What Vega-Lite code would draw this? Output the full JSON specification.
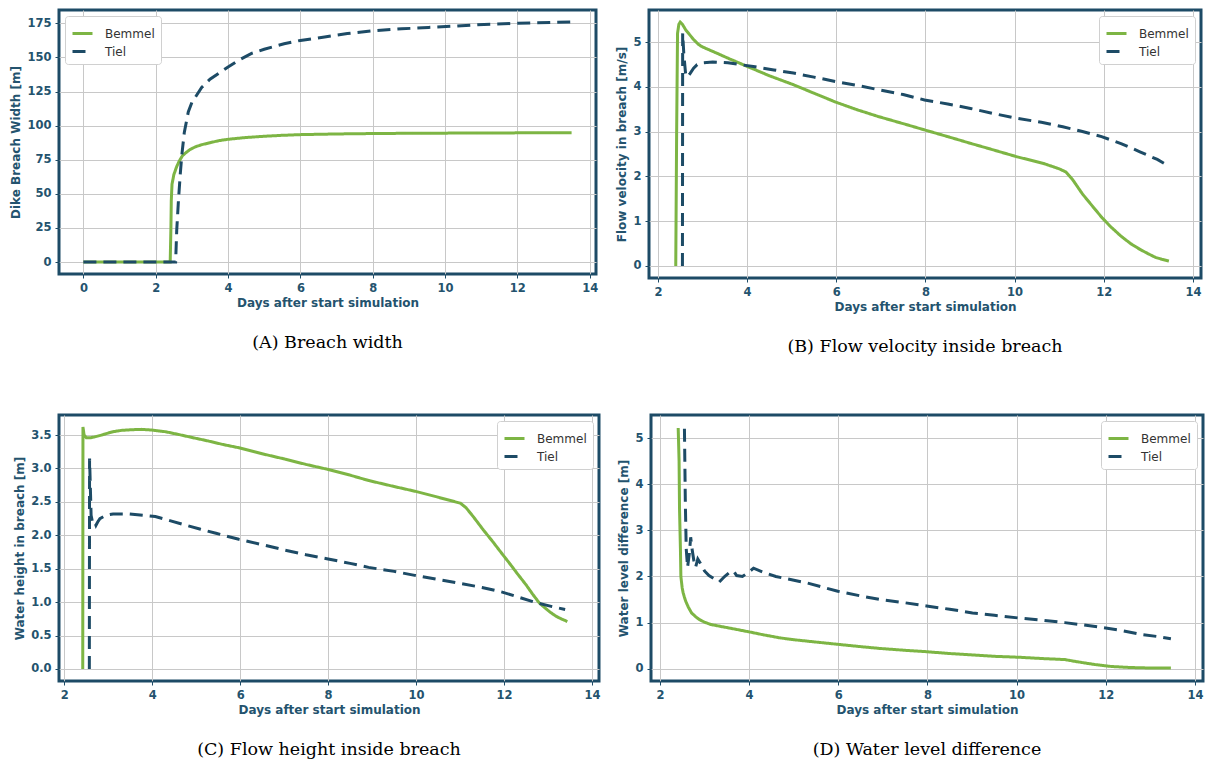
{
  "$schema": "https://vega.github.io/schema/vega-lite/v6.json",
  "background": "white",
  "padding": {"left": 8, "top": 8, "right": 5, "bottom": 5},
  "spacing": 56,
  "resolve": {"scale": {"color": "independent", "strokeDash": "independent"}, "legend": {"color": "independent", "strokeDash": "independent"}},
  "config": {
    "font": "DejaVu Sans",
    "view": {"stroke": "#1d4b66", "strokeWidth": 3},
    "axis": {"domain": false, "gridColor": "#c8c8c8", "gridWidth": 1, "tickColor": "#1d4b66", "tickSize": 4, "labelColor": "#24536e", "labelFont": "DejaVu Sans", "labelFontWeight": "bold", "labelFontSize": 11.5, "titleColor": "#24536e", "titleFont": "DejaVu Sans", "titleFontWeight": "bold", "titleFontSize": 12, "labelPadding": 4, "titlePadding": 4},
    "legend": {"strokeColor": "#d0d0d0", "fillColor": "white", "padding": 6, "cornerRadius": 3, "labelFont": "DejaVu Sans", "labelFontSize": 12, "labelColor": "#333333", "symbolType": "stroke", "symbolStrokeWidth": 3, "symbolSize": 400, "rowPadding": 0, "offset": 6, "labelOffset": 11},
    "title": {"font": "DejaVu Serif", "fontSize": 17.5, "fontWeight": "normal", "color": "black", "orient": "bottom", "offset": 25, "anchor": "middle"},
    "line": {"strokeWidth": 3}
  },
  "datasets": {
    "a": [
      {"series": "Bemmel", "day": 0, "value": 0}, {"series": "Bemmel", "day": 1, "value": 0}, {"series": "Bemmel", "day": 2, "value": 0}, {"series": "Bemmel", "day": 2.4, "value": 0},
      {"series": "Bemmel", "day": 2.42, "value": 25}, {"series": "Bemmel", "day": 2.43, "value": 45}, {"series": "Bemmel", "day": 2.45, "value": 57}, {"series": "Bemmel", "day": 2.5, "value": 64},
      {"series": "Bemmel", "day": 2.58, "value": 70}, {"series": "Bemmel", "day": 2.65, "value": 74}, {"series": "Bemmel", "day": 2.74, "value": 78}, {"series": "Bemmel", "day": 2.85, "value": 80.5},
      {"series": "Bemmel", "day": 2.95, "value": 82.5}, {"series": "Bemmel", "day": 3.1, "value": 84.5}, {"series": "Bemmel", "day": 3.27, "value": 86}, {"series": "Bemmel", "day": 3.5, "value": 87.5},
      {"series": "Bemmel", "day": 3.75, "value": 89}, {"series": "Bemmel", "day": 4.0, "value": 90}, {"series": "Bemmel", "day": 4.5, "value": 91.3}, {"series": "Bemmel", "day": 5.0, "value": 92.2},
      {"series": "Bemmel", "day": 5.5, "value": 92.9}, {"series": "Bemmel", "day": 6.0, "value": 93.4}, {"series": "Bemmel", "day": 7.0, "value": 93.9}, {"series": "Bemmel", "day": 8.0, "value": 94.2},
      {"series": "Bemmel", "day": 9.0, "value": 94.4}, {"series": "Bemmel", "day": 10.0, "value": 94.5}, {"series": "Bemmel", "day": 11.0, "value": 94.6}, {"series": "Bemmel", "day": 12.0, "value": 94.7}, {"series": "Bemmel", "day": 13.5, "value": 94.8},
      {"series": "Tiel", "day": 0, "value": 0}, {"series": "Tiel", "day": 1, "value": 0}, {"series": "Tiel", "day": 2, "value": 0}, {"series": "Tiel", "day": 2.55, "value": 0},
      {"series": "Tiel", "day": 2.58, "value": 23}, {"series": "Tiel", "day": 2.63, "value": 46}, {"series": "Tiel", "day": 2.68, "value": 65}, {"series": "Tiel", "day": 2.72, "value": 78},
      {"series": "Tiel", "day": 2.79, "value": 95}, {"series": "Tiel", "day": 2.9, "value": 110}, {"series": "Tiel", "day": 3.0, "value": 117}, {"series": "Tiel", "day": 3.27, "value": 128},
      {"series": "Tiel", "day": 3.5, "value": 134}, {"series": "Tiel", "day": 4.0, "value": 143}, {"series": "Tiel", "day": 4.3, "value": 148}, {"series": "Tiel", "day": 4.65, "value": 153},
      {"series": "Tiel", "day": 5.0, "value": 156}, {"series": "Tiel", "day": 5.55, "value": 160}, {"series": "Tiel", "day": 6.0, "value": 162.5}, {"series": "Tiel", "day": 6.67, "value": 165},
      {"series": "Tiel", "day": 7.3, "value": 167.5}, {"series": "Tiel", "day": 8.0, "value": 169.5}, {"series": "Tiel", "day": 8.8, "value": 171}, {"series": "Tiel", "day": 9.54, "value": 172},
      {"series": "Tiel", "day": 10.3, "value": 173}, {"series": "Tiel", "day": 10.9, "value": 174}, {"series": "Tiel", "day": 12.0, "value": 175}, {"series": "Tiel", "day": 13.5, "value": 176}
    ],
    "b": [
      {"series": "Bemmel", "day": 2.4, "value": 0}, {"series": "Bemmel", "day": 2.42, "value": 3.0}, {"series": "Bemmel", "day": 2.44, "value": 5.2}, {"series": "Bemmel", "day": 2.47, "value": 5.4},
      {"series": "Bemmel", "day": 2.5, "value": 5.45}, {"series": "Bemmel", "day": 2.55, "value": 5.4}, {"series": "Bemmel", "day": 2.62, "value": 5.28}, {"series": "Bemmel", "day": 2.71, "value": 5.17},
      {"series": "Bemmel", "day": 2.8, "value": 5.06}, {"series": "Bemmel", "day": 2.9, "value": 4.96}, {"series": "Bemmel", "day": 2.97, "value": 4.91}, {"series": "Bemmel", "day": 3.1, "value": 4.85},
      {"series": "Bemmel", "day": 3.31, "value": 4.76}, {"series": "Bemmel", "day": 3.6, "value": 4.63}, {"series": "Bemmel", "day": 4.0, "value": 4.46}, {"series": "Bemmel", "day": 4.5, "value": 4.25},
      {"series": "Bemmel", "day": 5.04, "value": 4.05}, {"series": "Bemmel", "day": 5.5, "value": 3.86}, {"series": "Bemmel", "day": 5.99, "value": 3.66}, {"series": "Bemmel", "day": 6.5, "value": 3.48},
      {"series": "Bemmel", "day": 6.94, "value": 3.34}, {"series": "Bemmel", "day": 7.5, "value": 3.18}, {"series": "Bemmel", "day": 7.98, "value": 3.04}, {"series": "Bemmel", "day": 8.5, "value": 2.89},
      {"series": "Bemmel", "day": 9.01, "value": 2.74}, {"series": "Bemmel", "day": 9.5, "value": 2.6}, {"series": "Bemmel", "day": 10.05, "value": 2.44}, {"series": "Bemmel", "day": 10.65, "value": 2.29},
      {"series": "Bemmel", "day": 11.0, "value": 2.17}, {"series": "Bemmel", "day": 11.15, "value": 2.1}, {"series": "Bemmel", "day": 11.3, "value": 1.93}, {"series": "Bemmel", "day": 11.52, "value": 1.61},
      {"series": "Bemmel", "day": 11.75, "value": 1.33}, {"series": "Bemmel", "day": 11.95, "value": 1.09}, {"series": "Bemmel", "day": 12.15, "value": 0.88}, {"series": "Bemmel", "day": 12.38, "value": 0.67},
      {"series": "Bemmel", "day": 12.6, "value": 0.5}, {"series": "Bemmel", "day": 12.81, "value": 0.37}, {"series": "Bemmel", "day": 13.0, "value": 0.27}, {"series": "Bemmel", "day": 13.16, "value": 0.19},
      {"series": "Bemmel", "day": 13.3, "value": 0.15}, {"series": "Bemmel", "day": 13.46, "value": 0.11},
      {"series": "Tiel", "day": 2.55, "value": 0}, {"series": "Tiel", "day": 2.555, "value": 5.2}, {"series": "Tiel", "day": 2.58, "value": 4.75}, {"series": "Tiel", "day": 2.62, "value": 4.3},
      {"series": "Tiel", "day": 2.66, "value": 4.22}, {"series": "Tiel", "day": 2.72, "value": 4.3}, {"series": "Tiel", "day": 2.8, "value": 4.42}, {"series": "Tiel", "day": 2.88, "value": 4.5},
      {"series": "Tiel", "day": 3.0, "value": 4.54}, {"series": "Tiel", "day": 3.23, "value": 4.56}, {"series": "Tiel", "day": 3.57, "value": 4.54}, {"series": "Tiel", "day": 4.18, "value": 4.45},
      {"series": "Tiel", "day": 4.6, "value": 4.38}, {"series": "Tiel", "day": 5.04, "value": 4.31}, {"series": "Tiel", "day": 5.5, "value": 4.22}, {"series": "Tiel", "day": 5.99, "value": 4.12},
      {"series": "Tiel", "day": 6.5, "value": 4.03}, {"series": "Tiel", "day": 6.94, "value": 3.94}, {"series": "Tiel", "day": 7.5, "value": 3.83}, {"series": "Tiel", "day": 7.98, "value": 3.71},
      {"series": "Tiel", "day": 8.5, "value": 3.62}, {"series": "Tiel", "day": 9.01, "value": 3.52}, {"series": "Tiel", "day": 9.5, "value": 3.41}, {"series": "Tiel", "day": 10.05, "value": 3.3},
      {"series": "Tiel", "day": 10.6, "value": 3.21}, {"series": "Tiel", "day": 11.08, "value": 3.11}, {"series": "Tiel", "day": 11.5, "value": 3.01}, {"series": "Tiel", "day": 11.95, "value": 2.89},
      {"series": "Tiel", "day": 12.4, "value": 2.73}, {"series": "Tiel", "day": 12.81, "value": 2.55}, {"series": "Tiel", "day": 13.2, "value": 2.38}, {"series": "Tiel", "day": 13.46, "value": 2.23}
    ],
    "c": [
      {"series": "Bemmel", "day": 2.42, "value": 0}, {"series": "Bemmel", "day": 2.425, "value": 3.62}, {"series": "Bemmel", "day": 2.45, "value": 3.5}, {"series": "Bemmel", "day": 2.5, "value": 3.46},
      {"series": "Bemmel", "day": 2.6, "value": 3.46}, {"series": "Bemmel", "day": 2.68, "value": 3.47}, {"series": "Bemmel", "day": 2.85, "value": 3.5}, {"series": "Bemmel", "day": 3.0, "value": 3.53},
      {"series": "Bemmel", "day": 3.11, "value": 3.55}, {"series": "Bemmel", "day": 3.3, "value": 3.57}, {"series": "Bemmel", "day": 3.54, "value": 3.58}, {"series": "Bemmel", "day": 3.75, "value": 3.585},
      {"series": "Bemmel", "day": 3.98, "value": 3.575}, {"series": "Bemmel", "day": 4.3, "value": 3.55}, {"series": "Bemmel", "day": 4.59, "value": 3.51}, {"series": "Bemmel", "day": 5.0, "value": 3.45},
      {"series": "Bemmel", "day": 5.28, "value": 3.41}, {"series": "Bemmel", "day": 5.6, "value": 3.36}, {"series": "Bemmel", "day": 5.97, "value": 3.31}, {"series": "Bemmel", "day": 6.5, "value": 3.22},
      {"series": "Bemmel", "day": 7.02, "value": 3.14}, {"series": "Bemmel", "day": 7.5, "value": 3.06}, {"series": "Bemmel", "day": 7.97, "value": 2.99}, {"series": "Bemmel", "day": 8.5, "value": 2.9},
      {"series": "Bemmel", "day": 8.92, "value": 2.82}, {"series": "Bemmel", "day": 9.5, "value": 2.73}, {"series": "Bemmel", "day": 9.97, "value": 2.66}, {"series": "Bemmel", "day": 10.5, "value": 2.57},
      {"series": "Bemmel", "day": 11.01, "value": 2.48}, {"series": "Bemmel", "day": 11.14, "value": 2.41}, {"series": "Bemmel", "day": 11.3, "value": 2.28}, {"series": "Bemmel", "day": 11.53, "value": 2.08},
      {"series": "Bemmel", "day": 11.75, "value": 1.9}, {"series": "Bemmel", "day": 11.96, "value": 1.72}, {"series": "Bemmel", "day": 12.15, "value": 1.56}, {"series": "Bemmel", "day": 12.31, "value": 1.42},
      {"series": "Bemmel", "day": 12.5, "value": 1.26}, {"series": "Bemmel", "day": 12.65, "value": 1.12}, {"series": "Bemmel", "day": 12.8, "value": 0.99}, {"series": "Bemmel", "day": 12.92, "value": 0.92},
      {"series": "Bemmel", "day": 13.05, "value": 0.85}, {"series": "Bemmel", "day": 13.18, "value": 0.79}, {"series": "Bemmel", "day": 13.3, "value": 0.75}, {"series": "Bemmel", "day": 13.44, "value": 0.71},
      {"series": "Tiel", "day": 2.57, "value": 0}, {"series": "Tiel", "day": 2.575, "value": 3.15}, {"series": "Tiel", "day": 2.61, "value": 2.3}, {"series": "Tiel", "day": 2.64, "value": 2.2},
      {"series": "Tiel", "day": 2.68, "value": 2.22}, {"series": "Tiel", "day": 2.72, "value": 2.15}, {"series": "Tiel", "day": 2.76, "value": 2.2}, {"series": "Tiel", "day": 2.81, "value": 2.25},
      {"series": "Tiel", "day": 2.95, "value": 2.3}, {"series": "Tiel", "day": 3.11, "value": 2.32}, {"series": "Tiel", "day": 3.46, "value": 2.32}, {"series": "Tiel", "day": 3.8, "value": 2.3},
      {"series": "Tiel", "day": 4.07, "value": 2.28}, {"series": "Tiel", "day": 4.4, "value": 2.22}, {"series": "Tiel", "day": 4.77, "value": 2.15}, {"series": "Tiel", "day": 5.1, "value": 2.09},
      {"series": "Tiel", "day": 5.45, "value": 2.03}, {"series": "Tiel", "day": 5.97, "value": 1.94}, {"series": "Tiel", "day": 6.5, "value": 1.86}, {"series": "Tiel", "day": 7.01, "value": 1.78},
      {"series": "Tiel", "day": 7.5, "value": 1.71}, {"series": "Tiel", "day": 7.97, "value": 1.65}, {"series": "Tiel", "day": 8.5, "value": 1.58}, {"series": "Tiel", "day": 8.92, "value": 1.52},
      {"series": "Tiel", "day": 9.5, "value": 1.46}, {"series": "Tiel", "day": 9.97, "value": 1.4}, {"series": "Tiel", "day": 10.5, "value": 1.34}, {"series": "Tiel", "day": 11.01, "value": 1.28},
      {"series": "Tiel", "day": 11.5, "value": 1.22}, {"series": "Tiel", "day": 11.96, "value": 1.15}, {"series": "Tiel", "day": 12.35, "value": 1.07}, {"series": "Tiel", "day": 12.74, "value": 0.99},
      {"series": "Tiel", "day": 13.05, "value": 0.94}, {"series": "Tiel", "day": 13.39, "value": 0.89}
    ],
    "d": [
      {"series": "Bemmel", "day": 2.41, "value": 5.22}, {"series": "Bemmel", "day": 2.43, "value": 4.5}, {"series": "Bemmel", "day": 2.44, "value": 3.45}, {"series": "Bemmel", "day": 2.46, "value": 2.6},
      {"series": "Bemmel", "day": 2.47, "value": 2.0}, {"series": "Bemmel", "day": 2.5, "value": 1.75}, {"series": "Bemmel", "day": 2.52, "value": 1.65}, {"series": "Bemmel", "day": 2.55, "value": 1.55},
      {"series": "Bemmel", "day": 2.58, "value": 1.46}, {"series": "Bemmel", "day": 2.64, "value": 1.33}, {"series": "Bemmel", "day": 2.71, "value": 1.21}, {"series": "Bemmel", "day": 2.8, "value": 1.13},
      {"series": "Bemmel", "day": 2.88, "value": 1.07}, {"series": "Bemmel", "day": 3.0, "value": 1.01}, {"series": "Bemmel", "day": 3.14, "value": 0.96}, {"series": "Bemmel", "day": 3.35, "value": 0.92},
      {"series": "Bemmel", "day": 3.57, "value": 0.88}, {"series": "Bemmel", "day": 4.0, "value": 0.8}, {"series": "Bemmel", "day": 4.3, "value": 0.74}, {"series": "Bemmel", "day": 4.69, "value": 0.67},
      {"series": "Bemmel", "day": 5.0, "value": 0.63}, {"series": "Bemmel", "day": 5.39, "value": 0.59}, {"series": "Bemmel", "day": 5.99, "value": 0.53}, {"series": "Bemmel", "day": 6.5, "value": 0.48},
      {"series": "Bemmel", "day": 6.94, "value": 0.44}, {"series": "Bemmel", "day": 7.5, "value": 0.4}, {"series": "Bemmel", "day": 7.98, "value": 0.37}, {"series": "Bemmel", "day": 8.5, "value": 0.33},
      {"series": "Bemmel", "day": 9.01, "value": 0.3}, {"series": "Bemmel", "day": 9.5, "value": 0.27}, {"series": "Bemmel", "day": 10.05, "value": 0.25}, {"series": "Bemmel", "day": 10.6, "value": 0.22},
      {"series": "Bemmel", "day": 11.08, "value": 0.2}, {"series": "Bemmel", "day": 11.25, "value": 0.17}, {"series": "Bemmel", "day": 11.5, "value": 0.13}, {"series": "Bemmel", "day": 11.77, "value": 0.09},
      {"series": "Bemmel", "day": 12.12, "value": 0.05}, {"series": "Bemmel", "day": 12.5, "value": 0.03}, {"series": "Bemmel", "day": 12.81, "value": 0.02}, {"series": "Bemmel", "day": 13.46, "value": 0.015},
      {"series": "Tiel", "day": 2.55, "value": 5.2}, {"series": "Tiel", "day": 2.57, "value": 3.6}, {"series": "Tiel", "day": 2.59, "value": 2.6}, {"series": "Tiel", "day": 2.62, "value": 2.2},
      {"series": "Tiel", "day": 2.66, "value": 2.5}, {"series": "Tiel", "day": 2.69, "value": 2.85}, {"series": "Tiel", "day": 2.72, "value": 2.6}, {"series": "Tiel", "day": 2.76, "value": 2.35},
      {"series": "Tiel", "day": 2.8, "value": 2.2}, {"series": "Tiel", "day": 2.85, "value": 2.38}, {"series": "Tiel", "day": 2.9, "value": 2.3}, {"series": "Tiel", "day": 3.0, "value": 2.12},
      {"series": "Tiel", "day": 3.1, "value": 2.02}, {"series": "Tiel", "day": 3.2, "value": 1.96}, {"series": "Tiel", "day": 3.33, "value": 1.88}, {"series": "Tiel", "day": 3.45, "value": 2.0},
      {"series": "Tiel", "day": 3.55, "value": 2.08}, {"series": "Tiel", "day": 3.65, "value": 2.12}, {"series": "Tiel", "day": 3.72, "value": 2.02}, {"series": "Tiel", "day": 3.85, "value": 2.0},
      {"series": "Tiel", "day": 4.0, "value": 2.1}, {"series": "Tiel", "day": 4.1, "value": 2.18}, {"series": "Tiel", "day": 4.3, "value": 2.1}, {"series": "Tiel", "day": 4.6, "value": 2.0},
      {"series": "Tiel", "day": 5.3, "value": 1.86}, {"series": "Tiel", "day": 5.99, "value": 1.68}, {"series": "Tiel", "day": 6.5, "value": 1.58}, {"series": "Tiel", "day": 6.94, "value": 1.5},
      {"series": "Tiel", "day": 7.5, "value": 1.43}, {"series": "Tiel", "day": 7.98, "value": 1.36}, {"series": "Tiel", "day": 8.5, "value": 1.29}, {"series": "Tiel", "day": 9.01, "value": 1.21},
      {"series": "Tiel", "day": 9.5, "value": 1.16}, {"series": "Tiel", "day": 10.05, "value": 1.1}, {"series": "Tiel", "day": 10.6, "value": 1.05}, {"series": "Tiel", "day": 11.08, "value": 1.0},
      {"series": "Tiel", "day": 11.5, "value": 0.95}, {"series": "Tiel", "day": 11.95, "value": 0.89}, {"series": "Tiel", "day": 12.4, "value": 0.82}, {"series": "Tiel", "day": 12.81, "value": 0.74},
      {"series": "Tiel", "day": 13.15, "value": 0.7}, {"series": "Tiel", "day": 13.46, "value": 0.65}
    ]
  },
  "vconcat": [
    {
      "spacing": 14,
      "resolve": {"scale": {"color": "independent", "strokeDash": "independent"}, "legend": {"color": "independent", "strokeDash": "independent"}},
      "hconcat": [
        {
          "width": 537, "height": 264,
          "data": {"name": "a"},
          "title": "(A) Breach width",
          "mark": {"type": "line", "strokeWidth": 3},
          "encoding": {
            "x": {"field": "day", "type": "quantitative", "scale": {"domain": [-0.675, 14.175], "nice": false, "zero": false}, "axis": {"values": [0, 2, 4, 6, 8, 10, 12, 14], "title": "Days after start simulation"}},
            "y": {"field": "value", "type": "quantitative", "scale": {"domain": [-8.8, 184.8], "nice": false, "zero": false}, "axis": {"values": [0, 25, 50, 75, 100, 125, 150, 175], "title": "Dike Breach Width [m]"}},
            "color": {"field": "series", "type": "nominal", "scale": {"domain": ["Bemmel", "Tiel"], "range": ["#7db544", "#1d4b66"]}, "legend": {"orient": "top-left", "title": null}},
            "strokeDash": {"field": "series", "type": "nominal", "scale": {"domain": ["Bemmel", "Tiel"], "range": [[1, 0], [13, 7]]}, "legend": {"orient": "top-left", "title": null}}
          }
        },
        {
          "width": 552, "height": 268,
          "data": {"name": "b"},
          "title": "(B) Flow velocity inside breach",
          "mark": {"type": "line", "strokeWidth": 3},
          "encoding": {
            "x": {"field": "day", "type": "quantitative", "scale": {"domain": [1.8, 14.18], "nice": false, "zero": false}, "axis": {"values": [2, 4, 6, 8, 10, 12, 14], "title": "Days after start simulation"}},
            "y": {"field": "value", "type": "quantitative", "scale": {"domain": [-0.27, 5.72], "nice": false, "zero": false}, "axis": {"values": [0, 1, 2, 3, 4, 5], "title": "Flow velocity in breach [m/s]"}},
            "color": {"field": "series", "type": "nominal", "scale": {"domain": ["Bemmel", "Tiel"], "range": ["#7db544", "#1d4b66"]}, "legend": {"orient": "top-right", "title": null}},
            "strokeDash": {"field": "series", "type": "nominal", "scale": {"domain": ["Bemmel", "Tiel"], "range": [[1, 0], [13, 7]]}, "legend": {"orient": "top-right", "title": null}}
          }
        }
      ]
    },
    {
      "spacing": 14,
      "resolve": {"scale": {"color": "independent", "strokeDash": "independent"}, "legend": {"color": "independent", "strokeDash": "independent"}},
      "hconcat": [
        {
          "width": 540, "height": 266,
          "data": {"name": "c"},
          "title": "(C) Flow height inside breach",
          "mark": {"type": "line", "strokeWidth": 3},
          "encoding": {
            "x": {"field": "day", "type": "quantitative", "scale": {"domain": [1.88, 14.16], "nice": false, "zero": false}, "axis": {"values": [2, 4, 6, 8, 10, 12, 14], "title": "Days after start simulation"}},
            "y": {"field": "value", "type": "quantitative", "scale": {"domain": [-0.18, 3.8], "nice": false, "zero": false}, "axis": {"values": [0, 0.5, 1, 1.5, 2, 2.5, 3, 3.5], "format": ".1f", "title": "Water height in breach [m]"}},
            "color": {"field": "series", "type": "nominal", "scale": {"domain": ["Bemmel", "Tiel"], "range": ["#7db544", "#1d4b66"]}, "legend": {"orient": "top-right", "title": null}},
            "strokeDash": {"field": "series", "type": "nominal", "scale": {"domain": ["Bemmel", "Tiel"], "range": [[1, 0], [13, 7]]}, "legend": {"orient": "top-right", "title": null}}
          }
        },
        {
          "width": 552, "height": 266,
          "data": {"name": "d"},
          "title": "(D) Water level difference",
          "mark": {"type": "line", "strokeWidth": 3},
          "encoding": {
            "x": {"field": "day", "type": "quantitative", "scale": {"domain": [1.8, 14.18], "nice": false, "zero": false}, "axis": {"values": [2, 4, 6, 8, 10, 12, 14], "title": "Days after start simulation"}},
            "y": {"field": "value", "type": "quantitative", "scale": {"domain": [-0.265, 5.5], "nice": false, "zero": false}, "axis": {"values": [0, 1, 2, 3, 4, 5], "title": "Water level difference [m]"}},
            "color": {"field": "series", "type": "nominal", "scale": {"domain": ["Bemmel", "Tiel"], "range": ["#7db544", "#1d4b66"]}, "legend": {"orient": "top-right", "title": null}},
            "strokeDash": {"field": "series", "type": "nominal", "scale": {"domain": ["Bemmel", "Tiel"], "range": [[1, 0], [13, 7]]}, "legend": {"orient": "top-right", "title": null}}
          }
        }
      ]
    }
  ]
}
